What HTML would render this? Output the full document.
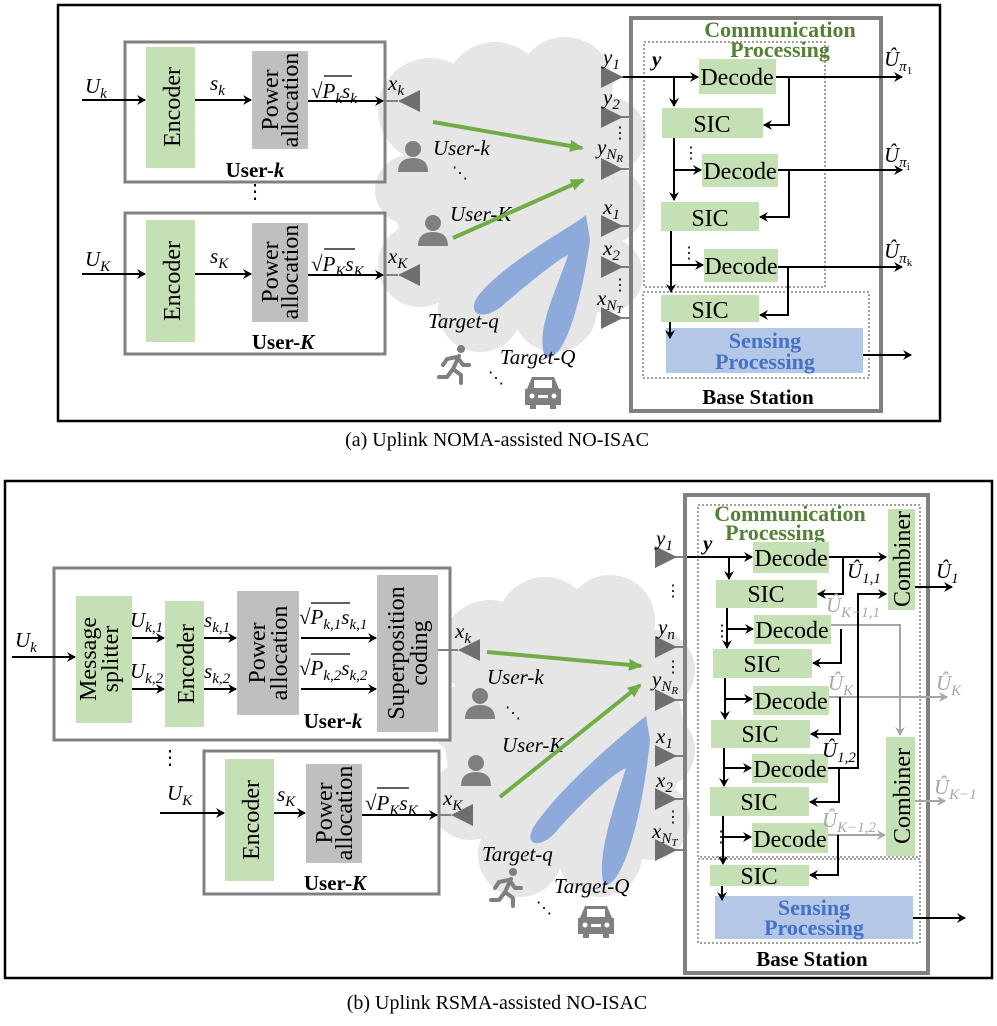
<!DOCTYPE html>
<html><head><meta charset="utf-8"><style>
html,body{margin:0;padding:0;background:#fff;}
svg{display:block;}
svg text{font-family:"Liberation Serif","DejaVu Serif",serif;}
.m{font-style:italic;font-size:21px;}
.s{font-size:15px;}
.ss{font-size:11px;}
.b{font-weight:bold;font-size:21px;}
.bx{font-size:24px;}
.cp{font-weight:bold;font-size:22px;fill:#548235;}
.sp{font-weight:bold;font-size:22px;fill:#4472c4;}
.gy{fill:#a6a6a6;}
</style></head><body>
<svg width="997" height="1026" viewBox="0 0 997 1026" xmlns="http://www.w3.org/2000/svg">
<defs>
<marker id="a" markerWidth="10" markerHeight="10" refX="8" refY="5" orient="auto" markerUnits="userSpaceOnUse"><path d="M0,0 L9,5 L0,10 L3,5 Z" fill="#000"/></marker>
<marker id="g" markerWidth="10" markerHeight="10" refX="8" refY="5" orient="auto" markerUnits="userSpaceOnUse"><path d="M0,0 L9,5 L0,10 L3,5 Z" fill="#a6a6a6"/></marker>
<marker id="gr" markerWidth="14" markerHeight="12" refX="12" refY="6" orient="auto" markerUnits="userSpaceOnUse"><path d="M0,0 L14,6 L0,12 Z" fill="#70ad47"/></marker>
<g id="person" fill="#7f7f7f"><circle cx="0" cy="-9" r="8"/><path d="M-15,14 Q-15,0 0,0 Q15,0 15,14 Z"/></g>
<g id="car" fill="#7f7f7f"><path d="M-16,-4 L-11,-16 L11,-16 L16,-4 L18,-4 L18,12 L13,12 L13,16 L7,16 L7,12 L-7,12 L-7,16 L-13,16 L-13,12 L-18,12 L-18,-4 Z"/><rect x="-9" y="-13" width="18" height="8" fill="#fff"/><circle cx="-11" cy="3" r="2.5" fill="#fff"/><circle cx="11" cy="3" r="2.5" fill="#fff"/><rect x="-5" y="2" width="10" height="3" fill="#fff"/></g>
<g id="run" fill="none" stroke="#7f7f7f" stroke-width="4" stroke-linecap="round" stroke-linejoin="round"><circle cx="6" cy="-16" r="4" fill="#7f7f7f" stroke="none"/><path d="M4,-9 L-2,4 L6,10 L6,18 M-2,4 L-8,12 L-16,12 M2,-8 L-8,-6 L-12,0 M3,-7 L8,0 L14,0"/></g>
<g id="antL"><path d="M0,0 L22,-11 L22,11 Z" fill="#6f6f6f"/></g>
<g id="antR"><path d="M0,-11 L22,0 L0,11 Z" fill="#6f6f6f"/></g>
</defs>

<!-- ================= PANEL A ================= -->
<rect x="58" y="5" width="882" height="416" fill="none" stroke="#000" stroke-width="2.5"/>
<g fill="#e6e6e6">
<circle cx="510" cy="200" r="115"/><circle cx="430" cy="110" r="52"/><circle cx="495" cy="92" r="50"/><circle cx="565" cy="85" r="48"/><circle cx="608" cy="135" r="38"/><circle cx="605" cy="205" r="40"/><circle cx="605" cy="275" r="38"/><circle cx="555" cy="310" r="42"/><circle cx="480" cy="310" r="42"/><circle cx="420" cy="265" r="42"/><circle cx="410" cy="190" r="35"/>
</g>
<rect x="125" y="42" width="260" height="140" fill="none" stroke="#808080" stroke-width="3"/>
<rect x="146" y="47" width="49" height="121" fill="#c5e0b4"/>
<text class="bx" font-size="25" text-anchor="middle" transform="translate(180,107) rotate(-90)">Encoder</text>
<rect x="252" y="51" width="56" height="98" fill="#bfbfbf"/>
<text class="bx" font-size="22" text-anchor="middle" transform="translate(278,100) rotate(-90)">Power</text>
<text class="bx" font-size="22" text-anchor="middle" transform="translate(298,100) rotate(-90)">allocation</text>
<text x="255" y="177" class="b" text-anchor="middle">User-<tspan font-style="italic">k</tspan></text>
<line x1="82" y1="100" x2="145" y2="100" stroke="#000" stroke-width="2" marker-end="url(#a)"/>
<line x1="195" y1="100" x2="251" y2="100" stroke="#000" stroke-width="2" marker-end="url(#a)"/>
<line x1="308" y1="101" x2="383" y2="101" stroke="#000" stroke-width="2" marker-end="url(#a)"/>
<line x1="383" y1="101" x2="398" y2="101" stroke="#808080" stroke-width="2"/>
<text x="85" y="93" class="m">U<tspan class="s" dy="5">k</tspan></text>
<text x="210" y="90" class="m">s<tspan class="s" dy="5">k</tspan></text>
<text x="311" y="98" class="m"><tspan font-style="normal">√</tspan>P<tspan class="s" dy="5">k</tspan><tspan dy="-5">s</tspan><tspan class="s" dy="5">k</tspan></text>
<line x1="324" y1="76" x2="352" y2="76" stroke="#000" stroke-width="1.3"/>
<text x="388" y="90" class="m">x<tspan class="s" dy="5">k</tspan></text>
<use href="#antL" x="398" y="101"/>
<text x="255" y="198" font-size="20" text-anchor="middle">⋮</text>
<rect x="125" y="213" width="260" height="141" fill="none" stroke="#808080" stroke-width="3"/>
<rect x="146" y="220" width="49" height="122" fill="#c5e0b4"/>
<text class="bx" font-size="25" text-anchor="middle" transform="translate(180,281) rotate(-90)">Encoder</text>
<rect x="252" y="223" width="56" height="99" fill="#bfbfbf"/>
<text class="bx" font-size="22" text-anchor="middle" transform="translate(278,272) rotate(-90)">Power</text>
<text class="bx" font-size="22" text-anchor="middle" transform="translate(298,272) rotate(-90)">allocation</text>
<text x="283" y="349" class="b" text-anchor="middle">User-<tspan font-style="italic">K</tspan></text>
<line x1="82" y1="274" x2="145" y2="274" stroke="#000" stroke-width="2" marker-end="url(#a)"/>
<line x1="195" y1="274" x2="251" y2="274" stroke="#000" stroke-width="2" marker-end="url(#a)"/>
<line x1="308" y1="275" x2="383" y2="275" stroke="#000" stroke-width="2" marker-end="url(#a)"/>
<line x1="383" y1="275" x2="398" y2="275" stroke="#808080" stroke-width="2"/>
<text x="85" y="266" class="m">U<tspan class="s" dy="5">K</tspan></text>
<text x="210" y="263" class="m">s<tspan class="s" dy="5">K</tspan></text>
<text x="311" y="271" class="m"><tspan font-style="normal">√</tspan>P<tspan class="s" dy="5">K</tspan><tspan dy="-5">s</tspan><tspan class="s" dy="5">K</tspan></text>
<line x1="324" y1="249" x2="355" y2="249" stroke="#000" stroke-width="1.3"/>
<text x="388" y="263" class="m">x<tspan class="s" dy="5">K</tspan></text>
<use href="#antL" x="398" y="275"/>
<use href="#person" x="413" y="158"/>
<use href="#person" x="433" y="232"/>
<text x="433" y="155" class="m">User-k</text>
<text x="450" y="221" class="m">User-K</text>
<text x="452" y="178" font-size="16">⋱</text>
<line x1="433" y1="122" x2="582" y2="148" stroke="#70ad47" stroke-width="4" marker-end="url(#gr)"/>
<line x1="453" y1="238" x2="583" y2="180" stroke="#70ad47" stroke-width="4" marker-end="url(#gr)"/>
<path d="M586,215 C570,228 505,262 478,296 C466,314 482,322 502,306 C530,282 560,258 568,255 C556,292 535,330 545,357 C562,364 580,312 590,240 Z" fill="#8eaadb"/>
<text x="428" y="328" class="m">Target-q</text>
<use href="#run" x="455" y="365"/>
<text x="488" y="383" font-size="16">⋱</text>
<text x="500" y="364" class="m">Target-Q</text>
<use href="#car" x="543" y="393"/>
<g stroke="#808080" stroke-width="2">
<line x1="620" y1="77" x2="632" y2="77"/><line x1="620" y1="117" x2="632" y2="117"/><line x1="620" y1="169" x2="632" y2="169"/><line x1="620" y1="226" x2="632" y2="226"/><line x1="620" y1="267" x2="632" y2="267"/><line x1="620" y1="318" x2="632" y2="318"/>
</g>
<use href="#antR" x="601" y="77"/><use href="#antR" x="601" y="117"/><use href="#antR" x="601" y="169"/><use href="#antR" x="601" y="226"/><use href="#antR" x="601" y="267"/><use href="#antR" x="601" y="318"/>
<text x="603" y="64" class="m">y<tspan class="s" dy="5">1</tspan></text>
<text x="603" y="104" class="m">y<tspan class="s" dy="5">2</tspan></text>
<text x="597" y="154" class="m">y<tspan class="s" dy="5">N<tspan class="ss" dy="3">R</tspan></tspan></text>
<text x="603" y="214" class="m">x<tspan class="s" dy="5">1</tspan></text>
<text x="603" y="255" class="m">x<tspan class="s" dy="5">2</tspan></text>
<text x="597" y="305" class="m">x<tspan class="s" dy="5">N<tspan class="ss" dy="3">T</tspan></tspan></text>
<text x="612" y="138" font-size="16">⋮</text>
<text x="612" y="290" font-size="16">⋮</text>
<rect x="631" y="18" width="250" height="393" fill="none" stroke="#808080" stroke-width="4"/>
<rect x="644" y="42" width="181" height="245" fill="none" stroke="#808080" stroke-width="1.5" stroke-dasharray="2,2"/>
<rect x="643" y="292" width="226" height="86" fill="none" stroke="#808080" stroke-width="1.5" stroke-dasharray="2,2"/>
<text x="780" y="37" class="cp" text-anchor="middle">Communication</text>
<text x="780" y="57" class="cp" text-anchor="middle">Processing</text>
<text x="652" y="66" class="m" font-weight="bold">y</text>
<rect x="699" y="59" width="77" height="35" fill="#c5e0b4"/><text x="737" y="85" class="bx" text-anchor="middle">Decode</text>
<rect x="662" y="108" width="101" height="30" fill="#c5e0b4"/><text x="712" y="132" class="bx" text-anchor="middle">SIC</text>
<rect x="702" y="154" width="76" height="33" fill="#c5e0b4"/><text x="740" y="179" class="bx" text-anchor="middle">Decode</text>
<rect x="661" y="202" width="98" height="29" fill="#c5e0b4"/><text x="710" y="226" class="bx" text-anchor="middle">SIC</text>
<rect x="704" y="249" width="74" height="33" fill="#c5e0b4"/><text x="741" y="274" class="bx" text-anchor="middle">Decode</text>
<rect x="661" y="295" width="98" height="27" fill="#c5e0b4"/><text x="710" y="318" class="bx" text-anchor="middle">SIC</text>
<rect x="666" y="328" width="197" height="45" fill="#b4c7e7"/>
<text x="765" y="348" class="sp" text-anchor="middle">Sensing</text>
<text x="765" y="369" class="sp" text-anchor="middle">Processing</text>
<g stroke="#000" stroke-width="2" fill="none">
<line x1="623" y1="77" x2="698" y2="77" marker-end="url(#a)"/>
<line x1="674" y1="77" x2="674" y2="106" marker-end="url(#a)"/>
<line x1="776" y1="77" x2="902" y2="77" marker-end="url(#a)"/>
<polyline points="789,77 789,125 764,125" marker-end="url(#a)"/>
<line x1="674" y1="138" x2="674" y2="200" marker-end="url(#a)"/>
<line x1="674" y1="170" x2="701" y2="170" marker-end="url(#a)"/>
<line x1="778" y1="170" x2="902" y2="170" marker-end="url(#a)"/>
<polyline points="789,170 789,217 760,217" marker-end="url(#a)"/>
<line x1="671" y1="231" x2="671" y2="292" marker-end="url(#a)"/>
<line x1="671" y1="265" x2="703" y2="265" marker-end="url(#a)"/>
<line x1="778" y1="267" x2="902" y2="267" marker-end="url(#a)"/>
<polyline points="788,267 788,315 760,315" marker-end="url(#a)"/>
<line x1="670" y1="322" x2="670" y2="338" marker-end="url(#a)"/>
<line x1="863" y1="355" x2="911" y2="355" marker-end="url(#a)"/>
</g>
<text x="683" y="158" font-size="16">⋮</text>
<text x="681" y="258" font-size="16">⋮</text>
<text x="884" y="66" class="m">Û<tspan class="s" dy="5">π<tspan class="ss" dy="3" font-style="normal">1</tspan></tspan></text>
<text x="884" y="162" class="m">Û<tspan class="s" dy="5">π<tspan class="ss" dy="3" font-style="normal">i</tspan></tspan></text>
<text x="884" y="258" class="m">Û<tspan class="s" dy="5">π<tspan class="ss" dy="3" font-style="normal">k</tspan></tspan></text>
<text x="758" y="404" class="b" text-anchor="middle">Base Station</text>
<text x="497" y="446" font-size="20" text-anchor="middle">(a) Uplink NOMA-assisted NO-ISAC</text>

<!-- ================= PANEL B ================= -->
<rect x="5" y="481" width="987" height="497" fill="none" stroke="#000" stroke-width="2.5"/>
<g fill="#e6e6e6">
<circle cx="565" cy="740" r="120"/><circle cx="490" cy="650" r="50"/><circle cx="545" cy="625" r="48"/><circle cx="610" cy="620" r="45"/><circle cx="655" cy="670" r="40"/><circle cx="655" cy="750" r="40"/><circle cx="650" cy="820" r="40"/><circle cx="600" cy="855" r="42"/><circle cx="520" cy="855" r="42"/><circle cx="470" cy="800" r="40"/><circle cx="465" cy="720" r="35"/>
</g>
<rect x="54" y="568" width="396" height="172" fill="#fff" stroke="#808080" stroke-width="3"/>
<rect x="76" y="596" width="56" height="127" fill="#c5e0b4"/>
<text class="bx" font-size="24" text-anchor="middle" transform="translate(96,659) rotate(-90)">Message</text>
<text class="bx" font-size="24" text-anchor="middle" transform="translate(118,659) rotate(-90)">splitter</text>
<rect x="165" y="601" width="39" height="126" fill="#c5e0b4"/>
<text class="bx" font-size="25" text-anchor="middle" transform="translate(194,664) rotate(-90)">Encoder</text>
<rect x="237" y="591" width="62" height="124" fill="#bfbfbf"/>
<text class="bx" font-size="24" text-anchor="middle" transform="translate(265,653) rotate(-90)">Power</text>
<text class="bx" font-size="24" text-anchor="middle" transform="translate(287,653) rotate(-90)">allocation</text>
<rect x="377" y="575" width="61" height="157" fill="#bfbfbf"/>
<text class="bx" font-size="24" text-anchor="middle" transform="translate(404,653) rotate(-90)">Superposition</text>
<text class="bx" font-size="24" text-anchor="middle" transform="translate(427,653) rotate(-90)">coding</text>
<text x="333" y="728" class="b" text-anchor="middle">User-<tspan font-style="italic">k</tspan></text>
<g stroke="#000" stroke-width="2">
<line x1="12" y1="657" x2="75" y2="657" marker-end="url(#a)"/>
<line x1="132" y1="638" x2="164" y2="638" marker-end="url(#a)"/>
<line x1="132" y1="689" x2="164" y2="689" marker-end="url(#a)"/>
<line x1="204" y1="638" x2="236" y2="638" marker-end="url(#a)"/>
<line x1="204" y1="689" x2="236" y2="689" marker-end="url(#a)"/>
<line x1="301" y1="638" x2="376" y2="638" marker-end="url(#a)"/>
<line x1="301" y1="689" x2="376" y2="689" marker-end="url(#a)"/>
</g>
<line x1="438" y1="650" x2="458" y2="650" stroke="#808080" stroke-width="2"/>
<text x="15" y="647" class="m">U<tspan class="s" dy="5">k</tspan></text>
<text x="130" y="627" class="m">U<tspan class="s" dy="5">k,1</tspan></text>
<text x="130" y="678" class="m">U<tspan class="s" dy="5">k,2</tspan></text>
<text x="204" y="627" class="m">s<tspan class="s" dy="5">k,1</tspan></text>
<text x="204" y="678" class="m">s<tspan class="s" dy="5">k,2</tspan></text>
<text x="299" y="624" class="m"><tspan font-style="normal">√</tspan>P<tspan class="s" dy="5">k,1</tspan><tspan dy="-5">s</tspan><tspan class="s" dy="5">k,1</tspan></text>
<line x1="311" y1="603" x2="350" y2="603" stroke="#000" stroke-width="1.3"/>
<text x="299" y="675" class="m"><tspan font-style="normal">√</tspan>P<tspan class="s" dy="5">k,2</tspan><tspan dy="-5">s</tspan><tspan class="s" dy="5">k,2</tspan></text>
<line x1="311" y1="654" x2="350" y2="654" stroke="#000" stroke-width="1.3"/>
<text x="455" y="638" class="m">x<tspan class="s" dy="5">k</tspan></text>
<use href="#antL" x="458" y="650"/>
<text x="160" y="764" font-size="20">⋮</text>
<rect x="204" y="751" width="235" height="143" fill="#fff" stroke="#808080" stroke-width="3"/>
<rect x="225" y="759" width="49" height="122" fill="#c5e0b4"/>
<text class="bx" font-size="25" text-anchor="middle" transform="translate(259,820) rotate(-90)">Encoder</text>
<rect x="306" y="764" width="56" height="99" fill="#bfbfbf"/>
<text class="bx" font-size="22" text-anchor="middle" transform="translate(332,813) rotate(-90)">Power</text>
<text class="bx" font-size="22" text-anchor="middle" transform="translate(352,813) rotate(-90)">allocation</text>
<text x="335" y="890" class="b" text-anchor="middle">User-<tspan font-style="italic">K</tspan></text>
<g stroke="#000" stroke-width="2">
<line x1="160" y1="813" x2="224" y2="813" marker-end="url(#a)"/>
<line x1="274" y1="813" x2="305" y2="813" marker-end="url(#a)"/>
<line x1="362" y1="815" x2="437" y2="815" marker-end="url(#a)"/>
</g>
<line x1="437" y1="815" x2="451" y2="815" stroke="#808080" stroke-width="2"/>
<text x="167" y="800" class="m">U<tspan class="s" dy="5">K</tspan></text>
<text x="277" y="801" class="m">s<tspan class="s" dy="5">K</tspan></text>
<text x="365" y="810" class="m"><tspan font-style="normal">√</tspan>P<tspan class="s" dy="5">K</tspan><tspan dy="-5">s</tspan><tspan class="s" dy="5">K</tspan></text>
<line x1="377" y1="788" x2="409" y2="788" stroke="#000" stroke-width="1.3"/>
<text x="443" y="805" class="m">x<tspan class="s" dy="5">K</tspan></text>
<use href="#antL" x="451" y="815"/>
<use href="#person" x="480" y="705"/>
<use href="#person" x="476" y="772"/>
<text x="487" y="684" class="m">User-k</text>
<text x="502" y="752" class="m">User-K</text>
<text x="505" y="718" font-size="16">⋱</text>
<line x1="487" y1="652" x2="641" y2="666" stroke="#70ad47" stroke-width="4" marker-end="url(#gr)"/>
<line x1="500" y1="797" x2="640" y2="685" stroke="#70ad47" stroke-width="4" marker-end="url(#gr)"/>
<path d="M646,716 C628,730 560,786 533,828 C524,846 540,848 554,834 C582,802 612,774 626,768 C612,812 596,860 604,885 C622,888 642,820 650,740 Z" fill="#8eaadb"/>
<text x="482" y="861" class="m">Target-q</text>
<use href="#run" x="507" y="888"/>
<text x="536" y="913" font-size="16">⋱</text>
<text x="554" y="893" class="m">Target-Q</text>
<use href="#car" x="596" y="922"/>
<g stroke="#808080" stroke-width="2">
<line x1="675" y1="557" x2="687" y2="557"/><line x1="675" y1="647" x2="687" y2="647"/><line x1="675" y1="700" x2="687" y2="700"/><line x1="675" y1="756" x2="687" y2="756"/><line x1="675" y1="799" x2="687" y2="799"/><line x1="675" y1="850" x2="687" y2="850"/>
</g>
<use href="#antR" x="655" y="557"/><use href="#antR" x="655" y="647"/><use href="#antR" x="655" y="700"/><use href="#antR" x="655" y="756"/><use href="#antR" x="655" y="799"/><use href="#antR" x="655" y="850"/>
<text x="656" y="545" class="m">y<tspan class="s" dy="5">1</tspan></text>
<text x="658" y="634" class="m">y<tspan class="s" dy="5">n</tspan></text>
<text x="652" y="686" class="m">y<tspan class="s" dy="5">N<tspan class="ss" dy="3">R</tspan></tspan></text>
<text x="656" y="743" class="m">x<tspan class="s" dy="5">1</tspan></text>
<text x="656" y="787" class="m">x<tspan class="s" dy="5">2</tspan></text>
<text x="652" y="838" class="m">x<tspan class="s" dy="5">N<tspan class="ss" dy="3">T</tspan></tspan></text>
<text x="665" y="596" font-size="16">⋮</text>
<text x="665" y="672" font-size="16">⋮</text>
<text x="665" y="822" font-size="16">⋮</text>
<rect x="685" y="495" width="243" height="478" fill="none" stroke="#808080" stroke-width="4"/>
<rect x="698" y="505" width="222" height="352" fill="none" stroke="#808080" stroke-width="1.5" stroke-dasharray="2,2"/>
<rect x="698" y="859" width="222" height="84" fill="none" stroke="#808080" stroke-width="1.5" stroke-dasharray="2,2"/>
<text x="790" y="521" class="cp" text-anchor="middle">Communication</text>
<text x="775" y="540" class="cp" text-anchor="middle">Processing</text>
<text x="703" y="550" class="m" font-weight="bold">y</text>
<g fill="#c5e0b4">
<rect x="753" y="542" width="76" height="31"/><rect x="716" y="580" width="101" height="28"/>
<rect x="754" y="615" width="77" height="29"/><rect x="713" y="649" width="99" height="29"/>
<rect x="753" y="686" width="76" height="29"/><rect x="711" y="720" width="99" height="28"/>
<rect x="752" y="754" width="76" height="29"/><rect x="710" y="787" width="99" height="29"/>
<rect x="752" y="823" width="76" height="30"/><rect x="710" y="865" width="99" height="21"/>
<rect x="888" y="509" width="27" height="101"/><rect x="886" y="737" width="29" height="119"/>
</g>
<g class="bx" text-anchor="middle">
<text x="791" y="566">Decode</text><text x="766" y="602">SIC</text>
<text x="792" y="638">Decode</text><text x="762" y="672">SIC</text>
<text x="791" y="709">Decode</text><text x="760" y="742">SIC</text>
<text x="790" y="777">Decode</text><text x="759" y="810">SIC</text>
<text x="790" y="847">Decode</text><text x="759" y="884">SIC</text>
</g>
<text class="bx" font-size="23" text-anchor="middle" transform="translate(910,559) rotate(-90)">Combiner</text>
<text class="bx" font-size="23" text-anchor="middle" transform="translate(910,796) rotate(-90)">Combiner</text>
<rect x="715" y="896" width="198" height="43" fill="#b4c7e7"/>
<text x="814" y="915" class="sp" text-anchor="middle">Sensing</text>
<text x="814" y="935" class="sp" text-anchor="middle">Processing</text>
<g stroke="#a6a6a6" stroke-width="2" fill="none">
<polyline points="831,625 900,625 900,735" marker-end="url(#g)"/>
<line x1="829" y1="697" x2="947" y2="697" marker-end="url(#g)"/>
<line x1="828" y1="835" x2="885" y2="835" marker-end="url(#g)"/>
<line x1="915" y1="801" x2="945" y2="801" marker-end="url(#g)"/>
</g>
<g stroke="#000" stroke-width="2" fill="none">
<line x1="687" y1="557" x2="752" y2="557" marker-end="url(#a)"/>
<line x1="729" y1="557" x2="729" y2="579" marker-end="url(#a)"/>
<line x1="829" y1="557" x2="886" y2="557" marker-end="url(#a)"/>
<polyline points="843,557 843,594 818,594" marker-end="url(#a)"/>
<polyline points="828,768 858,768 858,594 886,594" marker-end="url(#a)"/>
<line x1="915" y1="587" x2="952" y2="587" marker-end="url(#a)"/>
<line x1="727" y1="608" x2="727" y2="648" marker-end="url(#a)"/>
<line x1="727" y1="629" x2="753" y2="629" marker-end="url(#a)"/>
<polyline points="841,629 841,663 813,663" marker-end="url(#a)"/>
<line x1="725" y1="678" x2="725" y2="719" marker-end="url(#a)"/>
<line x1="725" y1="699" x2="752" y2="699" marker-end="url(#a)"/>
<polyline points="840,697 840,734 811,734" marker-end="url(#a)"/>
<line x1="724" y1="748" x2="724" y2="786" marker-end="url(#a)"/>
<line x1="724" y1="768" x2="751" y2="768" marker-end="url(#a)"/>
<polyline points="839,768 839,802 810,802" marker-end="url(#a)"/>
<line x1="723" y1="816" x2="723" y2="864" marker-end="url(#a)"/>
<line x1="723" y1="837" x2="751" y2="837" marker-end="url(#a)"/>
<polyline points="838,835 838,875 810,875" marker-end="url(#a)"/>
<line x1="722" y1="886" x2="722" y2="900" marker-end="url(#a)"/>
<line x1="913" y1="918" x2="965" y2="918" marker-end="url(#a)"/>
</g>
<text x="714" y="636" font-size="16">⋮</text>
<text x="713" y="842" font-size="16">⋮</text>
<text x="847" y="578" class="m">Û<tspan class="s" dy="5">1,1</tspan></text>
<text x="936" y="578" class="m">Û<tspan class="s" dy="5">1</tspan></text>
<text x="826" y="612" class="m gy">Û<tspan class="s" dy="5">K−1,1</tspan></text>
<text x="828" y="690" class="m gy">Û<tspan class="s" dy="5">K</tspan></text>
<text x="936" y="690" class="m gy">Û<tspan class="s" dy="5">K</tspan></text>
<text x="822" y="757" class="m">Û<tspan class="s" dy="5">1,2</tspan></text>
<text x="822" y="827" class="m gy">Û<tspan class="s" dy="5">K−1,2</tspan></text>
<text x="934" y="794" class="m gy">Û<tspan class="s" dy="5">K−1</tspan></text>
<text x="812" y="966" class="b" text-anchor="middle">Base Station</text>
<text x="497" y="1009" font-size="20" text-anchor="middle">(b) Uplink RSMA-assisted NO-ISAC</text>
</svg>
</body></html>
